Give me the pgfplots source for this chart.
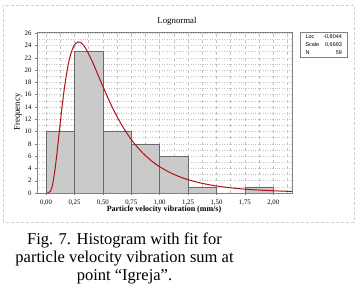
\documentclass[border=0pt]{standalone}
\usepackage{fontspec}
\setmainfont{Liberation Serif}
\newfontfamily\sansf{Liberation Sans}
\usepackage{pgfplots}
\pgfplotsset{compat=1.18}
\definecolor{barfill}{HTML}{CACACA}
\definecolor{baredge}{HTML}{6A6A6A}
\definecolor{fitred}{HTML}{B01018}
\definecolor{gridc}{HTML}{C4C4C4}
\definecolor{framec}{HTML}{D8C8D8}
\begin{document}
\begin{tikzpicture}[x=1pt,y=1pt]
\path[use as bounding box] (0,0) rectangle (357,286);
\draw[framec, densely dashed, line width=0.6pt] (3,64) rectangle (354,281);
\begin{axis}[
  at={(37pt,93pt)}, anchor=south west,
  scale only axis, width=255pt, height=161pt,
  xmin=-0.08, xmax=2.165, ymin=0, ymax=26.2,
  xtick={0,0.25,...,2},
  xticklabels={{0,00},{0,25},{0,50},{0,75},{1,00},{1,25},{1,50},{1,75},{2,00}},
  ytick={0,2,...,26},
  minor xtick={0.125,0.375,...,2.125},
  minor ytick={1,3,...,25},
  grid=both,
  x grid style={gridc, dashed, line width=0.45pt},
  y grid style={gridc, dotted, line width=0.45pt},
  minor grid style={gridc!70, dotted, line width=0.4pt},
  axis line style={gray},
  tick style={gray, line width=0.4pt},
  tick align=outside,
  major tick length=2pt, minor tick length=0pt,
  xtick pos=bottom, ytick pos=left,
  /pgf/number format/assume math mode=true,
  tick label style={font=\fontsize{6.8}{7}\selectfont},
  xticklabel style={yshift=-1pt},
]
\addplot[ybar interval, fill=barfill, draw=baredge, line width=0.5pt]
  coordinates {(0,10)(0.25,23)(0.5,10)(0.75,8)(1,6)(1.25,1)(1.5,0)(1.75,1)(2,1)};
\addplot[fitred, line width=1pt, smooth] coordinates {
(0.01,0.000)(0.02,0.009)(0.04,0.328)(0.05,0.827)(0.06,1.622)(0.08,4.027)
(0.10,7.178)(0.12,10.607)(0.14,13.925)(0.16,16.885)(0.18,19.365)(0.20,21.326)
(0.22,22.777)(0.24,23.764)(0.26,24.343)(0.28,24.574)(0.30,24.522)(0.32,24.239)
(0.35,23.486)(0.40,21.675)(0.45,19.537)(0.50,17.342)(0.55,15.242)(0.60,13.309)
(0.65,11.575)(0.70,10.042)(0.75,8.701)(0.80,7.537)(0.85,6.530)(0.90,5.662)
(0.95,4.914)(1.00,4.270)(1.10,3.238)(1.20,2.471)(1.30,1.899)(1.40,1.469)
(1.50,1.144)(1.60,0.897)(1.70,0.707)(1.80,0.561)(1.90,0.448)(2.00,0.360)
(2.10,0.290)(2.165,0.253)};
\end{axis}
\node[font=\fontsize{8.8}{10}\selectfont] at (177,265) {Lognormal};
\node[font=\fontsize{8}{9}\selectfont\bfseries] at (164,76) {Particle velocity vibration (mm/s)};
\node[font=\fontsize{8.8}{10}\selectfont, rotate=90] at (18,174) {Frequency};
\draw[gray, line width=0.5pt] (300,229) rectangle (347,254);
\node[font=\sansf\fontsize{5.5}{6}\selectfont, anchor=west] at (302,249.5) {Loc};
\node[font=\sansf\fontsize{5.5}{6}\selectfont, anchor=east] at (345.5,249.5) {-0,8044};
\node[font=\sansf\fontsize{5.5}{6}\selectfont, anchor=west] at (302,241.5) {Scale};
\node[font=\sansf\fontsize{5.5}{6}\selectfont, anchor=east] at (345.5,241.5) {0,6693};
\node[font=\sansf\fontsize{5.5}{6}\selectfont, anchor=west] at (302,233.5) {N};
\node[font=\sansf\fontsize{5.5}{6}\selectfont, anchor=east] at (345.5,233.5) {59};
\node[font=\fontsize{16.5}{18}\selectfont, align=center, anchor=north] at (124.5,56.5) {Fig. 7. Histogram with fit for\\particle velocity vibration sum at\\point “Igreja”.};
\end{tikzpicture}
\end{document}
